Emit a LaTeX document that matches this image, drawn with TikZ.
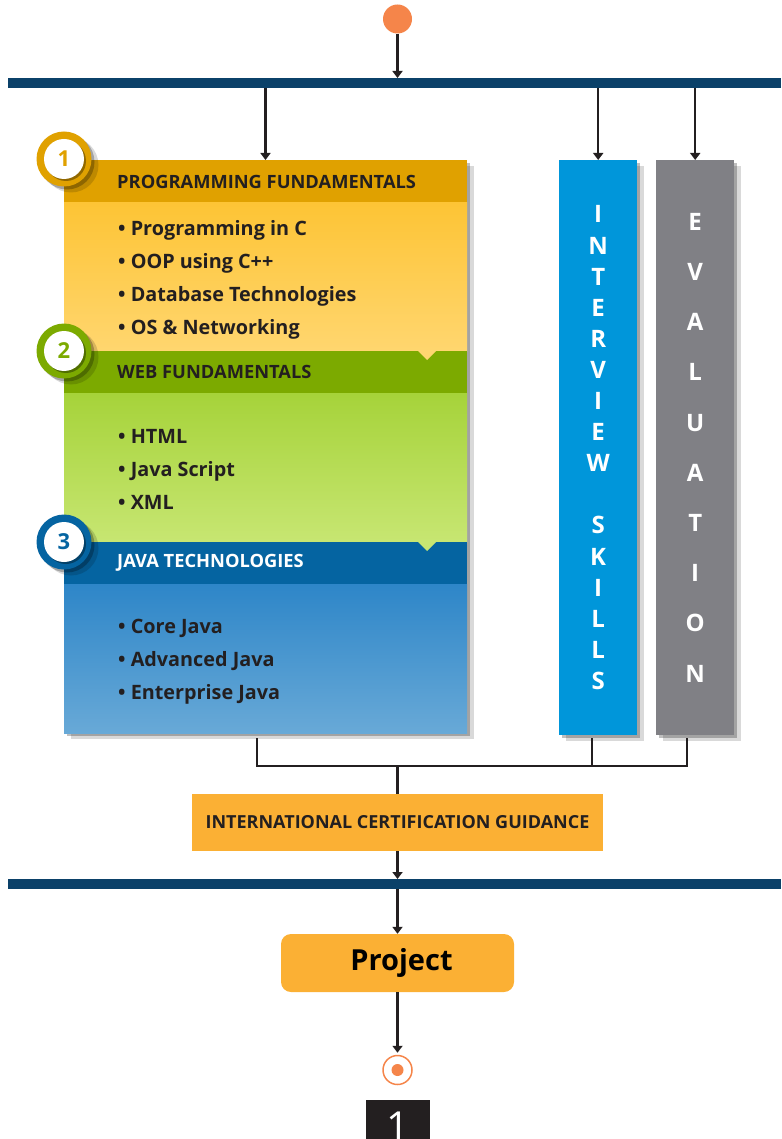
\documentclass[tikz,border=0pt]{standalone}
\usepackage{fontspec}
\setmainfont{Open Sans}
\usetikzlibrary{positioning,shadows,arrows.meta,backgrounds}
\definecolor{navy}{HTML}{0B4169}
\definecolor{ink}{HTML}{231F20}
\definecolor{dotorange}{HTML}{F5854A}
\definecolor{gold}{HTML}{E0A100}
\definecolor{yellowtop}{HTML}{FDC435}
\definecolor{yellowbot}{HTML}{FFD66F}
\definecolor{leaf}{HTML}{7CAA00}
\definecolor{leaftop}{HTML}{A6D33A}
\definecolor{leafbot}{HTML}{C7E672}
\definecolor{royal}{HTML}{0564A1}
\definecolor{royaltop}{HTML}{2E86C8}
\definecolor{royalbot}{HTML}{68A9D7}
\definecolor{skyblue}{HTML}{0096DA}
\definecolor{slate}{HTML}{808085}
\definecolor{amber}{HTML}{FBB034}
\tikzset{
  softshadow/.style={drop shadow={shadow xshift=3pt, shadow yshift=-3pt, opacity=0.25, fill=black},
                     drop shadow={shadow xshift=7pt, shadow yshift=-6pt, opacity=0.15, fill=black}},
  bar/.style={fill=navy, minimum width=773pt, minimum height=10pt, inner sep=0pt, outer sep=0pt},
  conn/.style={line width=2.4pt, draw=ink, -{Triangle[width=10pt,length=7pt]}},
  link/.style={line width=2.4pt, draw=ink},
  headbox/.style={minimum width=403pt, minimum height=42.5pt, inner sep=0pt, outer sep=0pt},
  bodybox/.style={minimum width=403pt, minimum height=148.5pt, inner sep=0pt, outer sep=0pt},
  headtxt/.style={font=\bfseries\fontsize{18.3}{22}\selectfont, text=ink, anchor=west, inner sep=0pt},
  itemtxt/.style={font=\bfseries\fontsize{19.8}{33}\selectfont, text=ink, align=left, anchor=west, inner sep=0pt},
  badge/.style={circle, minimum size=55pt, inner sep=0pt, softshadow},
  badgein/.style={circle, fill=white, minimum size=40pt, inner sep=0pt, font=\bfseries\fontsize{22}{22}\selectfont,
                  drop shadow={shadow xshift=2pt, shadow yshift=-2pt, opacity=0.35, fill=black}},
  vbox/.style={minimum width=78pt, minimum height=575pt, inner sep=0pt, align=center, text=white, softshadow},
  certbox/.style={fill=amber, minimum width=411pt, minimum height=57pt, font=\bfseries\fontsize{18}{22}\selectfont, text=ink},
  projbox/.style={fill=amber, rounded corners=10pt, minimum width=233pt, minimum height=58pt, text=black},
}
\begin{document}
\begin{tikzpicture}[x=1pt, y=-1pt]
        \useasboundingbox (0,0) rectangle (781,1139);

        \node[circle, fill=dotorange, minimum size=29pt, inner sep=0pt] (start) at (397.5,19) {};
        \node[bar, anchor=north west] (topbar) at (8,78) {};
        \draw[conn] (start) -- (start |- topbar.north);

        \node[headbox, fill=gold, anchor=north west] (head1) at (64,160) {};
        \node[bodybox, top color=yellowtop, bottom color=yellowbot, below=0pt of head1] (body1) {};
        \node[headbox, fill=leaf, below=0pt of body1] (head2) {};
        \node[bodybox, top color=leaftop, bottom color=leafbot, below=0pt of head2] (body2) {};
        \node[headbox, fill=royal, below=0pt of body2] (head3) {};
        \node[bodybox, top color=royaltop, bottom color=royalbot, below=0pt of head3] (body3) {};
        \begin{scope}[on background layer]
          \path[fill=white, softshadow] (head1.north west) rectangle (body3.south east);
        \end{scope}

        \fill[yellowbot] ([xshift=-49pt]head2.north east) -- ([xshift=-31pt]head2.north east) -- ([xshift=-40pt,yshift=-9pt]head2.north east) -- cycle;
        \fill[leafbot] ([xshift=-49pt]head3.north east) -- ([xshift=-31pt]head3.north east) -- ([xshift=-40pt,yshift=-9pt]head3.north east) -- cycle;

        \node[headtxt] at ([xshift=53pt,yshift=-1pt]head1.west) {PROGRAMMING FUNDAMENTALS};
        \node[headtxt] at ([xshift=53pt]head2.west) {WEB FUNDAMENTALS};
        \node[headtxt, text=white] at ([xshift=53pt]head3.west) {JAVA TECHNOLOGIES};

        \node[itemtxt] at ([xshift=54pt,yshift=-3pt]body1.west) {• Programming in C\\• OOP using C++\\• Database Technologies\\• OS \& Networking};
        \node[itemtxt] at ([xshift=54pt,yshift=-2pt]body2.west) {• HTML\\• Java Script\\• XML};
        \node[itemtxt] at ([xshift=54pt,yshift=-3pt]body3.west) {• Core Java\\• Advanced Java\\• Enterprise Java};

        \foreach \n/\col/\y in {1/gold/159, 2/leaf/351, 3/royal/542} {
          \node[badge, fill=\col] (badge\n) at (64,\y) {};
          \node[badgein, text=\col] at (badge\n) {\n};
        }

        \node[vbox, fill=skyblue, anchor=north west, font=\bfseries\fontsize{24}{31.1}\selectfont] (interview) at (559,160)
          {I\\N\\T\\E\\R\\V\\I\\E\\W\\[31.1pt]S\\K\\I\\L\\L\\S};
        \node[vbox, fill=slate, anchor=north west, font=\bfseries\fontsize{24}{50.2}\selectfont] (evaluation) at (656,160)
          {E\\V\\A\\L\\U\\A\\T\\I\\O\\N};

        \draw[conn] (topbar.south -| head1.north) -- (head1.north);
        \draw[conn] (topbar.south -| interview.north) -- (interview.north);
        \draw[conn] (topbar.south -| evaluation.north) -- (evaluation.north);

        \node[certbox] (cert) at (397.5,822.5) {INTERNATIONAL CERTIFICATION GUIDANCE};
        \coordinate (merge) at (397.5,766);
        \draw[link] ([xshift=-8.5pt,yshift=-5pt]body3.south) |- (merge);
        \draw[link] ([xshift=-6pt,yshift=-3pt]interview.south) |- (merge);
        \draw[link] ([xshift=-8pt,yshift=-3pt]evaluation.south) |- (merge);
        \draw[link] (merge) -- (cert.north);

        \node[bar, anchor=north west] (botbar) at (8,879) {};
        \draw[conn] (cert.south) -- (cert.south |- botbar.north);

        \node[projbox] (project) at (397.5,963) {};
        \node[font=\bfseries\fontsize{29}{32}\selectfont, inner sep=0pt] at ([xshift=4pt]project.center) {Project};
        \draw[conn] (botbar.south -| project.north) -- (project.north);

        \node[circle, draw=dotorange, line width=1.5pt, minimum size=29pt, inner sep=0pt] (finish) at (397.5,1070) {};
        \node[circle, fill=dotorange, minimum size=12pt, inner sep=0pt] at (finish) {};
        \draw[conn, shorten >=2pt] (project.south) -- (finish.north);

        \node[fill=ink, minimum width=64pt, minimum height=50pt, inner sep=0pt, anchor=north] (page) at (398,1100) {};
        \node[text=white, font=\fontsize{40}{40}\selectfont, inner sep=0pt, anchor=north] at ([yshift=-12pt]page.north) {1};
\end{tikzpicture}
\end{document}
